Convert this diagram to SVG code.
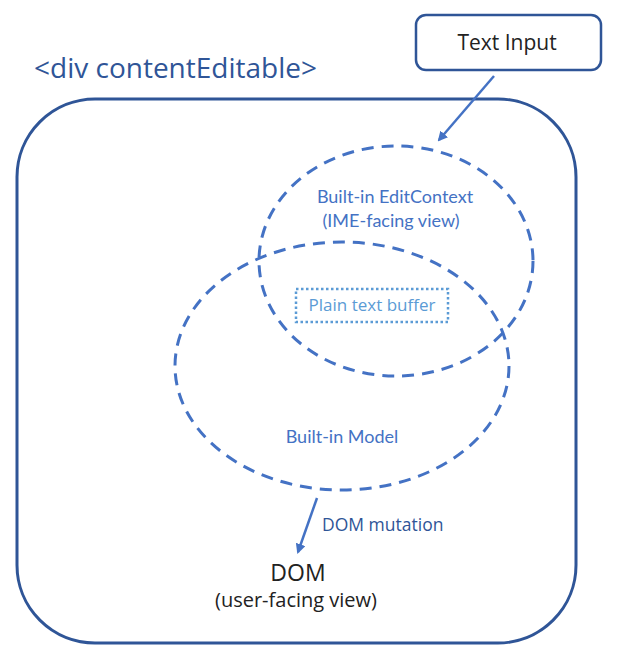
<svg xmlns="http://www.w3.org/2000/svg" width="624" height="661" viewBox="0 0 624 661">
<defs>
<style>
.outer{fill:none;stroke:#2F5597;stroke-width:3}
.dash{fill:none;stroke:#4472C4;stroke-width:3;stroke-dasharray:12 8}
.conn{stroke:#4472C4;stroke-width:2.5;fill:none}
.lbl{font-family:Lato,"Liberation Sans",sans-serif;fill:#4472C4;text-anchor:middle}
.os{font-family:'Open Sans','Noto Sans',sans-serif}
</style>
<marker id="ah" markerWidth="10" markerHeight="10" refX="8" refY="5" orient="auto" markerUnits="userSpaceOnUse">
<path d="M0,0 L10,5 L0,10 z" fill="#4472C4"/>
</marker>
</defs>
<rect width="624" height="661" fill="#fff"/>
<g id="container">
<rect class="outer" x="17" y="99" width="559" height="544" rx="78" ry="78"/>
<text class="os" x="34" y="78" font-size="28" fill="#2F5597">&lt;div contentEditable&gt;</text>
</g>
<g id="text-input">
<rect x="416" y="15" width="185" height="55" rx="10" fill="#fff" stroke="#2F5597" stroke-width="2.5"/>
<text class="os" x="507" y="50" font-size="21" fill="#222" text-anchor="middle">Text Input</text>
</g>
<g id="editcontext">
<ellipse class="dash" cx="396" cy="261" rx="137" ry="115"/>
<text class="lbl" x="395" y="203" font-size="18">Built-in EditContext</text>
<text class="lbl" x="391" y="227" font-size="18">(IME-facing view)</text>
</g>
<g id="model">
<ellipse class="dash" cx="342" cy="366" rx="167" ry="124"/>
<text class="lbl" x="342" y="443" font-size="18">Built-in Model</text>
</g>
<g id="buffer">
<rect x="296" y="289" width="152" height="33" fill="none" stroke="#5B9BD5" stroke-width="2.5" stroke-dasharray="2.5 2.5"/>
<text class="os" x="372" y="311" font-size="17" fill="#5B9BD5" text-anchor="middle">Plain text buffer</text>
</g>
<g id="dom">
<text class="os" x="298" y="581" font-size="23" fill="#222" text-anchor="middle">DOM</text>
<text class="os" x="296" y="607" font-size="20" fill="#222" text-anchor="middle">(user-facing view)</text>
</g>
<g id="connectors">
<line class="conn" x1="494" y1="76" x2="439" y2="140" marker-end="url(#ah)"/>
<line class="conn" x1="317" y1="498" x2="298" y2="552" marker-end="url(#ah)"/>
<text class="os" x="322" y="531" font-size="17.5" fill="#2F5597">DOM mutation</text>
</g>
</svg>
